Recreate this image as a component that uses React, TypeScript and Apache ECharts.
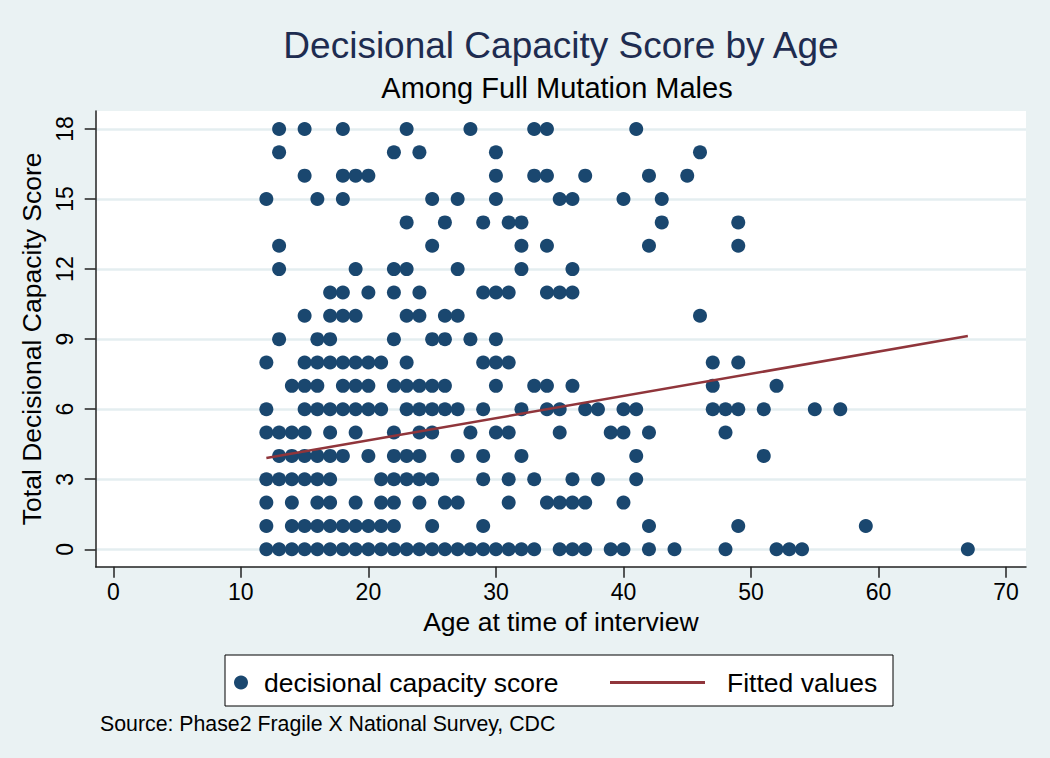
import React, { useEffect, useRef } from "react";
import * as echarts from "echarts";

// Tick labels
const ageTicks = [0, 10, 20, 30, 40, 50, 60, 70];
const scoreTicks = [0, 3, 6, 9, 12, 15, 18];

// Ages observed at each total decisional capacity score (index = score)
const agesScore0 = [12, 13, 14, 15, 16, 17, 18, 19, 20, 21, 22, 23, 24, 25, 26, 27, 28, 29, 30, 31, 32, 33, 35, 36, 37, 39, 40, 42, 44, 48, 52, 53, 54, 67];
const agesScore1 = [12, 14, 15, 16, 17, 18, 19, 20, 21, 22, 25, 29, 42, 49, 59];
const agesScore2 = [12, 14, 16, 17, 19, 21, 22, 24, 26, 27, 31, 34, 35, 36, 37, 40];
const agesScore3 = [12, 13, 14, 15, 16, 17, 21, 22, 23, 24, 25, 29, 31, 33, 36, 38, 41];
const agesScore4 = [13, 14, 15, 16, 17, 18, 20, 22, 23, 24, 27, 29, 32, 41, 51];
const agesScore5 = [12, 13, 14, 15, 17, 19, 22, 24, 25, 28, 30, 31, 35, 39, 40, 42, 48];
const agesScore6 = [12, 15, 16, 17, 18, 19, 20, 21, 23, 24, 25, 26, 27, 29, 32, 34, 35, 37, 38, 40, 41, 47, 48, 49, 51, 55, 57];
const agesScore7 = [14, 15, 16, 18, 19, 20, 22, 23, 24, 25, 26, 30, 33, 34, 36, 47, 52];
const agesScore8 = [12, 15, 16, 17, 18, 19, 20, 21, 23, 29, 30, 31, 47, 49];
const agesScore9 = [13, 16, 17, 22, 25, 26, 28, 30];
const agesScore10 = [15, 17, 18, 19, 23, 24, 26, 27, 46];
const agesScore11 = [17, 18, 20, 22, 24, 29, 30, 31, 34, 35, 36];
const agesScore12 = [13, 19, 22, 23, 27, 32, 36];
const agesScore13 = [13, 25, 32, 34, 42, 49];
const agesScore14 = [23, 26, 29, 31, 32, 43, 49];
const agesScore15 = [12, 16, 18, 25, 27, 30, 35, 36, 40, 43];
const agesScore16 = [15, 18, 19, 20, 30, 33, 34, 37, 42, 45];
const agesScore17 = [13, 22, 24, 30, 46];
const agesScore18 = [13, 15, 18, 23, 28, 33, 34, 41];

const agesByScore = [
  agesScore0, agesScore1, agesScore2, agesScore3, agesScore4, agesScore5, agesScore6,
  agesScore7, agesScore8, agesScore9, agesScore10, agesScore11, agesScore12, agesScore13,
  agesScore14, agesScore15, agesScore16, agesScore17, agesScore18,
];

// Fitted line endpoints
const fittedAges = [12, 67];
const fittedValues = [3.91, 9.13];

const FONT = "'Liberation Sans', Arial, Helvetica, sans-serif";

export default function App() {
  const ref = useRef<HTMLDivElement>(null);

  useEffect(() => {
    if (!ref.current) return;
    const chart = echarts.init(ref.current, null, { renderer: "svg" });

    const scatterData: number[][] = [];
    agesByScore.forEach((ages, score) => {
      ages.forEach((a) => scatterData.push([a, score]));
    });
    const lineData = fittedAges.map((a, i) => [a, fittedValues[i]]);

    const option: any = {
      animation: false,
      backgroundColor: "#eaf2f3",
      textStyle: { fontFamily: FONT },
      grid: {
        left: 95.7,
        top: 111,
        right: 24,
        bottom: 191.3,
        show: true,
        backgroundColor: "#ffffff",
        borderWidth: 0,
      },
      xAxis: {
        type: "value",
        min: -1.38,
        max: 71.56,
        name: "Age at time of interview",
        nameLocation: "middle",
        nameGap: 41,
        nameTextStyle: { fontSize: 26.5, color: "#000", fontFamily: FONT },
        axisLine: { show: true, onZero: false, lineStyle: { color: "#222", width: 1.5 } },
        axisTick: { show: true, customValues: ageTicks, length: 11, lineStyle: { color: "#222", width: 1.5 } },
        axisLabel: { customValues: ageTicks, fontSize: 23, color: "#000", margin: 14, fontFamily: FONT },
        splitLine: { show: false },
      },
      yAxis: {
        type: "value",
        min: -0.745,
        max: 18.77,
        name: "Total Decisional Capacity Score",
        nameLocation: "middle",
        nameGap: 50,
        nameRotate: 90,
        nameTextStyle: { fontSize: 26.5, color: "#000", fontFamily: FONT },
        axisLine: { show: true, onZero: false, lineStyle: { color: "#222", width: 1.5 } },
        axisTick: { show: true, customValues: scoreTicks, length: 11, lineStyle: { color: "#222", width: 1.5 } },
        axisLabel: { customValues: scoreTicks, rotate: 90, fontSize: 23, color: "#000", margin: 19, fontFamily: FONT },
        splitLine: { show: true, lineStyle: { color: "#e4eef0", width: 2.5 } },
      },
      legend: [
        {
          data: [{ name: "decisional capacity score", icon: "circle" }],
          left: 229,
          top: 664,
          itemWidth: 26,
          itemHeight: 14,
          textStyle: { fontSize: 26.5, color: "#000", fontFamily: FONT, padding: [0, 0, 0, 5] },
          selectedMode: false,
        },
        {
          data: [{ name: "Fitted values", icon: "rect" }],
          left: 605,
          top: 664,
          itemWidth: 95,
          itemHeight: 3,
          itemStyle: { color: "#90353b" },
          textStyle: { fontSize: 26.5, color: "#000", fontFamily: FONT, padding: [0, 0, 0, 17] },
          selectedMode: false,
        },
      ],
      graphic: [
        {
          type: "rect",
          z: -1,
          shape: { x: 225, y: 655, width: 668, height: 51 },
          style: { fill: "#ffffff", stroke: "#000", lineWidth: 1 },
        },
        {
          type: "text",
          x: 561,
          y: 45,
          style: {
            text: "Decisional Capacity Score by Age",
            fontSize: 37,
            fontFamily: FONT,
            fill: "#1e2c50",
            textAlign: "center",
            textVerticalAlign: "middle",
          },
        },
        {
          type: "text",
          x: 557,
          y: 88,
          style: {
            text: "Among Full Mutation Males",
            fontSize: 29,
            fontFamily: FONT,
            fill: "#000",
            textAlign: "center",
            textVerticalAlign: "middle",
          },
        },
        {
          type: "text",
          x: 100,
          y: 724,
          style: {
            text: "Source: Phase2 Fragile X National Survey, CDC",
            fontSize: 21.3,
            fontFamily: FONT,
            fill: "#000",
            textAlign: "left",
            textVerticalAlign: "middle",
          },
        },
      ],
      series: [
        {
          name: "decisional capacity score",
          type: "scatter",
          data: scatterData,
          symbol: "circle",
          symbolSize: 14,
          itemStyle: { color: "#1a476f", opacity: 1 },
          z: 3,
        },
        {
          name: "Fitted values",
          type: "line",
          data: lineData,
          symbol: "none",
          showSymbol: false,
          lineStyle: { color: "#90353b", width: 2.5 },
          itemStyle: { color: "#90353b" },
          z: 4,
        },
      ],
    };

    chart.setOption(option);
    return () => chart.dispose();
  }, []);

  return (
    <div
      ref={ref}
      style={{ position: "absolute", left: 0, top: 0, width: 1050, height: 758 }}
    />
  );
}
